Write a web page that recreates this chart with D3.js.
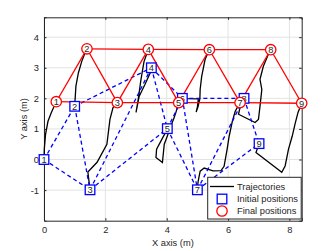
<!DOCTYPE html>
<html>
<head>
<meta charset="utf-8">
<script src="https://cdn.jsdelivr.net/npm/d3@7"></script>
<style>
  body { margin: 0; background: #fff; }
  text { font-family: "Liberation Sans", Arial, sans-serif; fill: #262626; }
</style>
</head>
<body>
<svg id="chart" width="334" height="251"></svg>
<script>
// final formation (red circles)
var finalX = [0.40, 1.40, 2.39, 3.40, 4.39, 5.39, 6.39, 7.39, 8.40];
var finalY = [1.89, 3.62, 1.86, 3.60, 1.86, 3.59, 1.86, 3.59, 1.84];
// initial positions (blue squares)
var initX = [0.00, 1.00, 1.50, 3.50, 4.02, 4.51, 5.00, 6.52, 7.01];
var initY = [0.00, 1.74, -0.99, 3.00, 1.01, 2.00, -0.99, 2.00, 0.52];
// links between agents (1-based)
var links = [[1,2],[1,3],[2,3],[2,4],[3,4],[3,5],[4,5],[4,6],[5,6],[5,7],[6,7],[6,8],[7,8],[7,9],[8,9]];
// trajectory waypoints between initial and final positions
var trajMid = [
  [[0.01,0.34],[0.05,0.82],[0.13,1.25],[0.23,1.51],[0.33,1.74]],
  [[1.01,1.91],[1.04,2.40],[1.12,2.83],[1.23,3.21],[1.34,3.49]],
  [[1.47,-0.74],[1.43,-0.41],[1.73,-0.09],[2.05,0.50],[2.15,1.31],[2.25,1.70]],
  [[3.46,2.83],[3.29,2.45],[3.10,2.06],[3.00,1.54],[3.07,1.96],[3.16,2.61],[3.26,3.20]],
  [[4.04,0.82],[3.92,0.50],[3.86,-0.10],[3.65,0.07],[3.67,0.34],[3.84,0.66],[3.98,0.92],[4.11,1.05],[4.22,1.31],[4.30,1.54]],
  [[4.65,1.99],[5.03,1.98],[5.00,1.72],[4.96,1.55],[5.02,1.72],[5.08,1.98],[5.09,2.29],[5.14,2.72],[5.25,3.27]],
  [[5.02,-0.74],[5.09,-0.38],[5.22,-0.28],[5.51,-0.37],[5.77,-0.36],[5.87,-0.22],[5.97,0.34],[6.03,0.73],[6.13,1.21],[6.23,1.57]],
  [[6.39,1.70],[6.34,1.48],[6.88,1.21],[6.99,1.31],[7.04,1.74],[7.10,2.29],[7.04,2.62],[7.15,3.05],[7.31,3.43]],
  [[6.91,0.23],[7.75,-0.42],[7.86,-0.21],[7.97,0.34],[8.09,0.76],[8.18,1.15],[8.28,1.54]]
];
var xTicks = [0, 2, 4, 6, 8];
var yTicks = [-1, 0, 1, 2, 3, 4];
var legendLabels = ["Trajectories", "Initial positions", "Final positions"];

var svg = d3.select("#chart");
var pLeft = 44, pRight = 301.7, pTop = 17.3, pBottom = 220.7;
var xScale = d3.scaleLinear().domain([0, 8.4]).range([pLeft, pRight]);
var yScale = d3.scaleLinear().domain([-2, 4.65]).range([pBottom, pTop]);
var fs = "9.3px";

// grid
var grid = svg.append("g");
grid.selectAll(".gx").data(xTicks).enter().append("line")
  .attr("x1", function(d){ return xScale(d); }).attr("x2", function(d){ return xScale(d); })
  .attr("y1", pTop).attr("y2", pBottom).attr("stroke", "#e3e3e3").attr("stroke-width", 1);
grid.selectAll(".gy").data(yTicks).enter().append("line")
  .attr("y1", function(d){ return yScale(d); }).attr("y2", function(d){ return yScale(d); })
  .attr("x1", pLeft).attr("x2", pRight).attr("stroke", "#e3e3e3").attr("stroke-width", 1);

// axes (ticks inside, all four sides)
var fmt = function(d){ return d; };
svg.append("g").attr("transform", "translate(0," + pBottom + ")")
  .call(d3.axisBottom(xScale).tickValues(xTicks).tickSize(-2.5).tickPadding(6).tickFormat(fmt));
svg.append("g").attr("transform", "translate(0," + pTop + ")")
  .call(d3.axisTop(xScale).tickValues(xTicks).tickSize(-2.5).tickFormat(""));
svg.append("g").attr("transform", "translate(" + pLeft + ",0)")
  .call(d3.axisLeft(yScale).tickValues(yTicks).tickSize(-2.5).tickPadding(5).tickFormat(fmt));
svg.append("g").attr("transform", "translate(" + pRight + ",0)")
  .call(d3.axisRight(yScale).tickValues(yTicks).tickSize(-2.5).tickFormat(""));
svg.selectAll(".domain").attr("stroke", "#262626");
svg.selectAll(".tick line").attr("stroke", "#262626");
svg.selectAll(".tick text").style("font-size", fs).attr("fill", "#262626");

// trajectories
var line = d3.line().x(function(d){ return xScale(d[0]); }).y(function(d){ return yScale(d[1]); });
var trajs = trajMid.map(function(m, i){
  return [[initX[i], initY[i]]].concat(m, [[finalX[i], finalY[i]]]);
});
svg.append("g").selectAll("path").data(trajs).enter().append("path")
  .attr("d", line).attr("fill", "none").attr("stroke", "#000").attr("stroke-width", 1.3);

// initial links
svg.append("g").selectAll("line").data(links).enter().append("line")
  .attr("x1", function(d){ return xScale(initX[d[0]-1]); })
  .attr("y1", function(d){ return yScale(initY[d[0]-1]); })
  .attr("x2", function(d){ return xScale(initX[d[1]-1]); })
  .attr("y2", function(d){ return yScale(initY[d[1]-1]); })
  .attr("stroke", "#0000ff").attr("stroke-width", 1.3).attr("stroke-dasharray", "4,3");

// final links
svg.append("g").selectAll("line").data(links).enter().append("line")
  .attr("x1", function(d){ return xScale(finalX[d[0]-1]); })
  .attr("y1", function(d){ return yScale(finalY[d[0]-1]); })
  .attr("x2", function(d){ return xScale(finalX[d[1]-1]); })
  .attr("y2", function(d){ return yScale(finalY[d[1]-1]); })
  .attr("stroke", "#ff0000").attr("stroke-width", 1.3);

// initial markers
var sq = svg.append("g").selectAll("g").data(initX).enter().append("g")
  .attr("transform", function(d, i){ return "translate(" + xScale(d) + "," + yScale(initY[i]) + ")"; });
sq.append("rect").attr("x", -4.8).attr("y", -4.8).attr("width", 9.6).attr("height", 9.6)
  .attr("fill", "#fff").attr("stroke", "#0000ff").attr("stroke-width", 1.3);
sq.append("text").attr("text-anchor", "middle").attr("dy", "0.35em").style("font-size", fs)
  .text(function(d, i){ return i + 1; });

// final markers
var ci = svg.append("g").selectAll("g").data(finalX).enter().append("g")
  .attr("transform", function(d, i){ return "translate(" + xScale(d) + "," + yScale(finalY[i]) + ")"; });
ci.append("circle").attr("r", 5.2)
  .attr("fill", "#fff").attr("stroke", "#ff0000").attr("stroke-width", 1.3);
ci.append("text").attr("text-anchor", "middle").attr("dy", "0.35em").style("font-size", fs)
  .text(function(d, i){ return i + 1; });

// legend
var lg = svg.append("g");
lg.append("rect").attr("x", 207.7).attr("y", 177.3).attr("width", 93.5).attr("height", 41.7)
  .attr("fill", "#fff").attr("stroke", "#262626").attr("stroke-width", 1);
var ly = [186.5, 199, 211];
lg.append("line").attr("x1", 210).attr("x2", 234).attr("y1", ly[0]).attr("y2", ly[0])
  .attr("stroke", "#000").attr("stroke-width", 1.3);
lg.append("rect").attr("x", 222 - 4.8).attr("y", ly[1] - 4.8).attr("width", 9.6).attr("height", 9.6)
  .attr("fill", "none").attr("stroke", "#0000ff").attr("stroke-width", 1.3);
lg.append("circle").attr("cx", 222).attr("cy", ly[2]).attr("r", 5.2)
  .attr("fill", "none").attr("stroke", "#ff0000").attr("stroke-width", 1.3);
lg.selectAll("text.lab").data(legendLabels).enter().append("text")
  .attr("x", 237).attr("y", function(d, i){ return ly[i]; }).attr("dy", "0.35em")
  .style("font-size", fs).text(function(d){ return d; });

// axis titles
svg.append("text").attr("x", (pLeft + pRight) / 2).attr("y", 246).attr("text-anchor", "middle")
  .style("font-size", fs).text("X axis (m)");
svg.append("text").attr("transform", "translate(26.5," + ((pTop + pBottom) / 2) + ") rotate(-90)")
  .attr("text-anchor", "middle").style("font-size", fs).text("Y axis (m)");
</script>
</body>
</html>
